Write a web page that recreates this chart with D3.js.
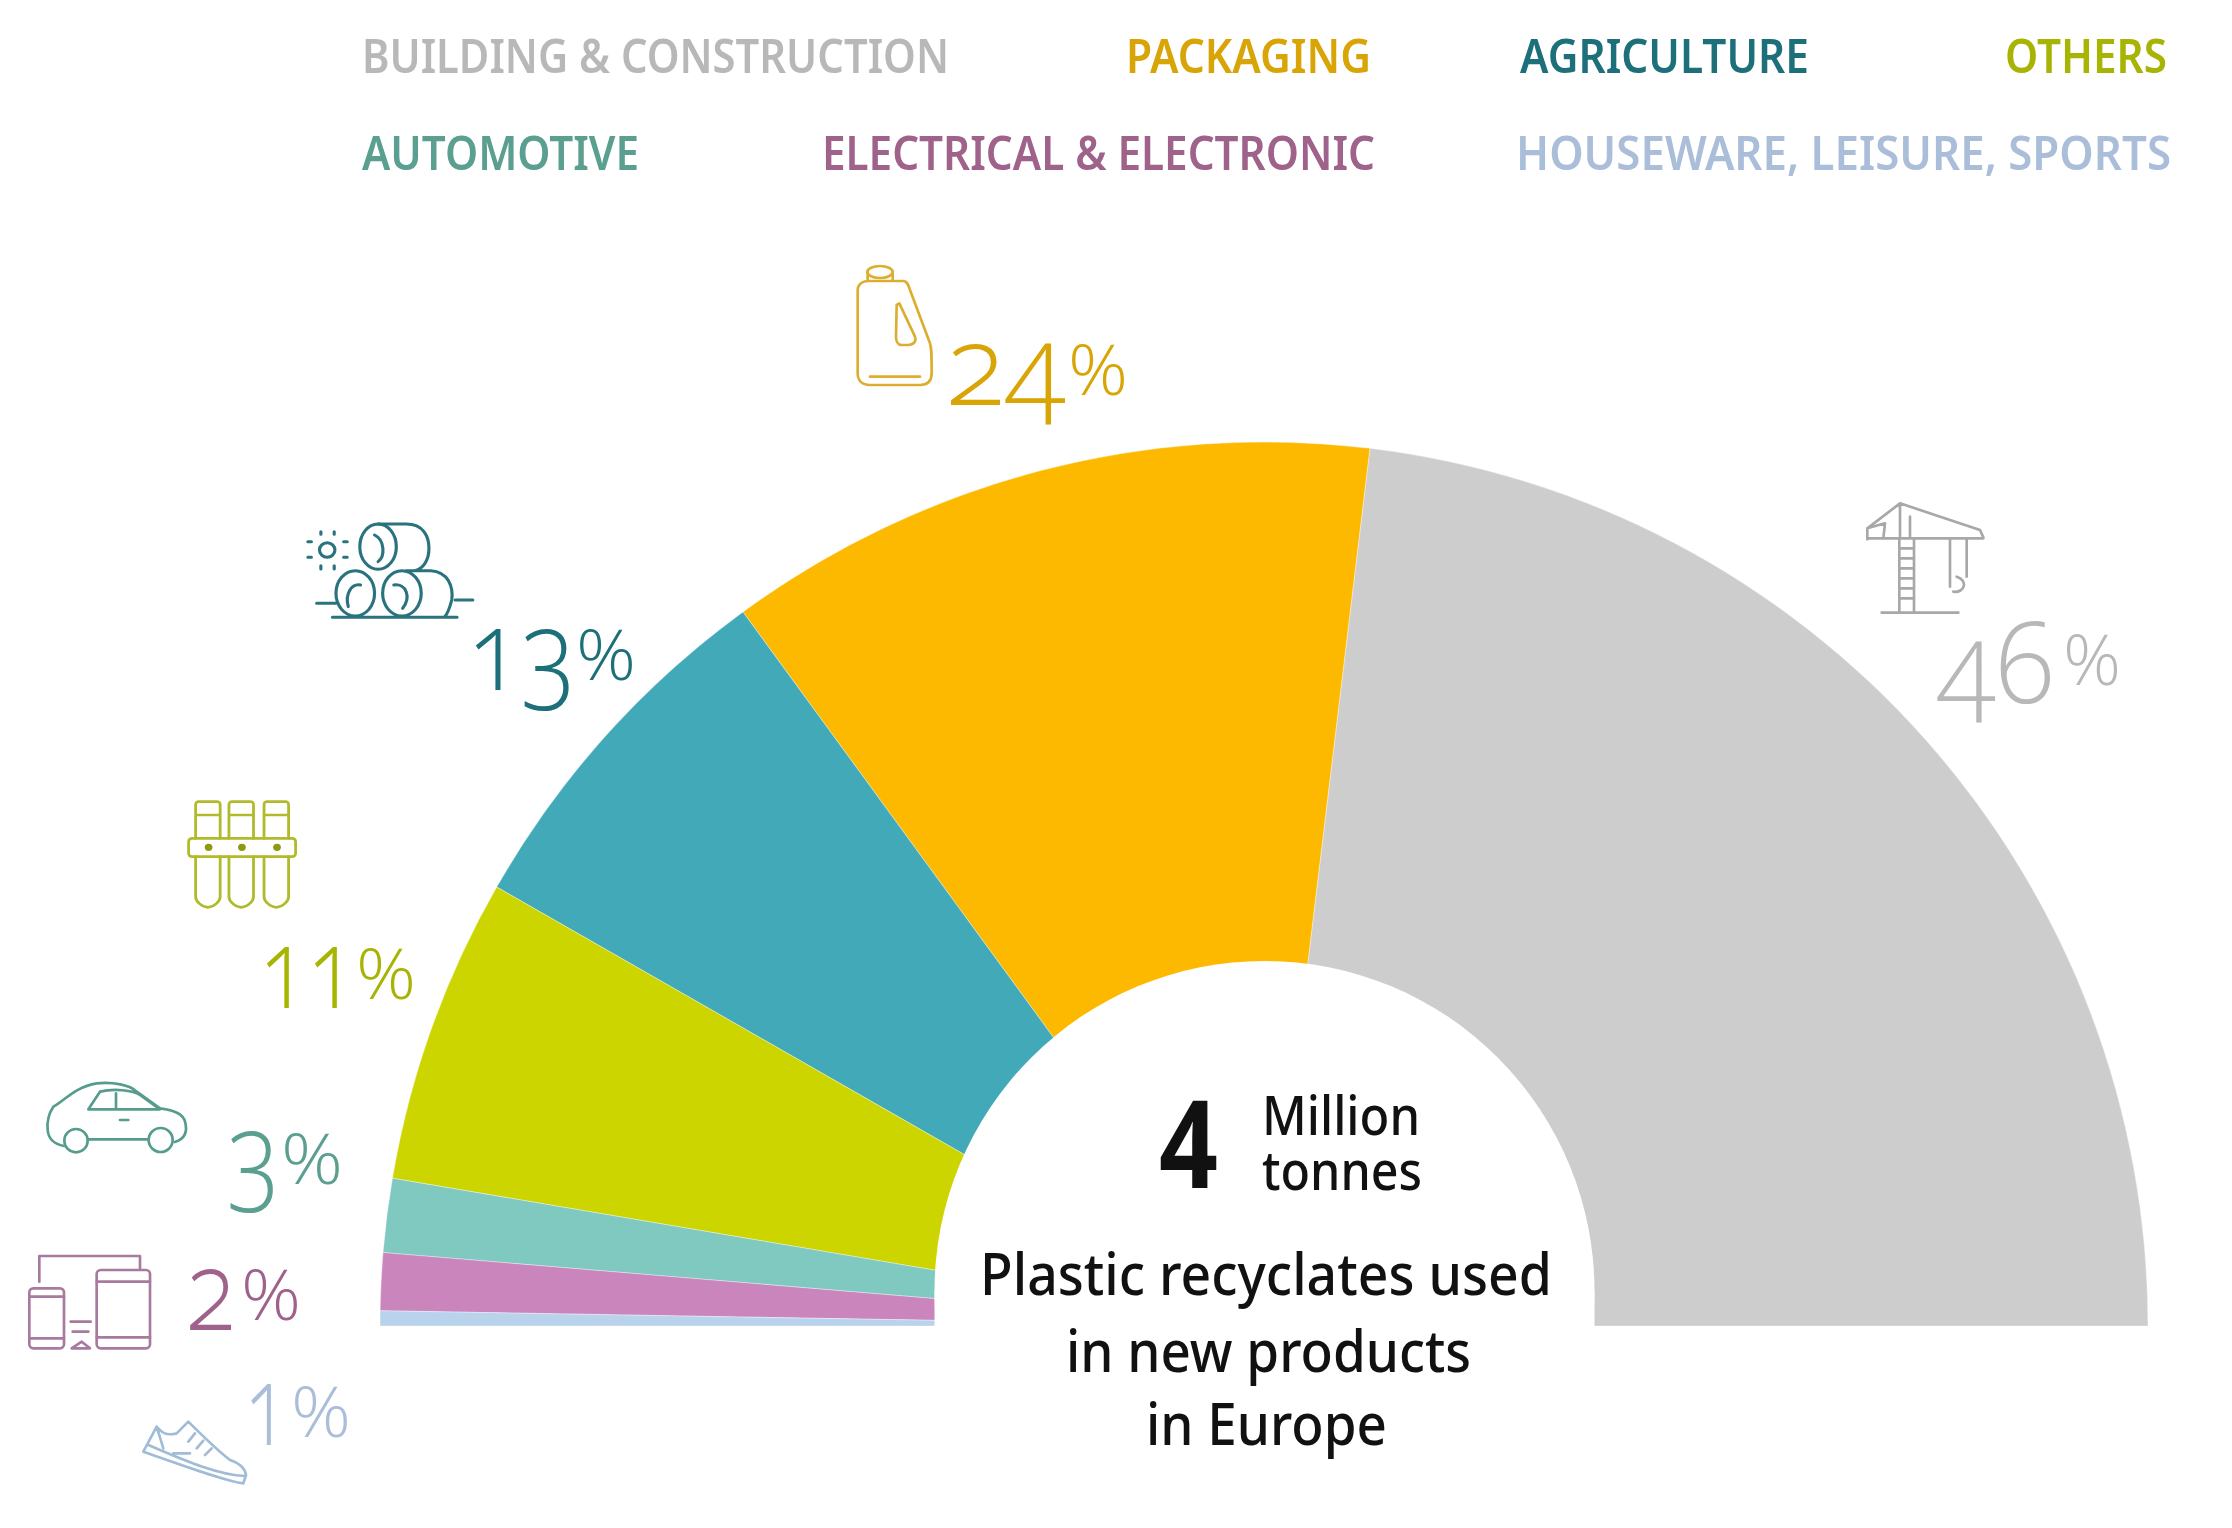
<!DOCTYPE html>
<html lang="en">
<head>
  <meta charset="UTF-8">
  <title>Plastic recyclates used in new products in Europe</title>
  <style>
    body { margin: 0; background: #fff; }
    /* the source picture is a soft upscale */
    svg { display: block; filter: blur(0.7px); }
    text { font-family: "Open Sans", "Noto Sans", sans-serif; }
    .legend { font-family: "Noto Sans", sans-serif; font-weight: 600; font-size: 46px; }
    .pct { font-family: "Open Sans", sans-serif; font-weight: 340; font-feature-settings: "onum" 1; font-variant-numeric: oldstyle-nums; }
    .center { font-family: "Noto Sans", sans-serif; fill: #111; font-weight: 500; }
    .icon { fill: none; stroke-linecap: round; stroke-linejoin: round; }
  </style>
</head>
<body>
  <svg id="chart" width="2232" height="1528"></svg>
  <script src="https://d3js.org/d3.v7.min.js"></script>
  <script>
    // Categories in the order the slices run, right to left
    const categories = ["Building & Construction", "Packaging", "Agriculture", "Others", "Automotive", "Electrical & Electronic", "Houseware, Leisure, Sports"];
    // Printed percentages
    const percentages = [46, 24, 13, 11, 3, 2, 1];
    // Slice shares as measured on the picture (the drawn angles differ a little from the printed numbers)
    const sliceShares = [46.2, 23.9, 13.4, 11.2, 2.7, 2.1, 0.55];
    const sliceColors = ["#cdcdcd", "#fdb900", "#41a9b8", "#cdd500", "#7fc9c0", "#c985bc", "#b9d3ec"];
    const textColors = ["#b8b8b8", "#d9a405", "#1d7079", "#a8b404", "#5a9f90", "#9f628a", "#aabdd9"];
    const iconColors = ["#a8a8a8", "#dcae30", "#2a737e", "#b0ba2a", "#559c8e", "#a87a9e", "#a0bcd6"];

    const svg = d3.select("#chart");

    // Half donut, hole is a bit higher than the pie centre
    const cx = 1264, cy = 1326, outerR = 884;
    const pie = d3.pie().sort(null).startAngle(Math.PI / 2).endAngle(-Math.PI / 2);
    const arc = d3.arc().innerRadius(0).outerRadius(outerR);

    svg.append("g")
      .attr("transform", `translate(${cx},${cy})`)
      .selectAll("path")
      .data(pie(sliceShares))
      .join("path")
      .attr("d", arc)
      .attr("fill", (d, i) => sliceColors[i])
      .attr("stroke", "#fff")
      .attr("stroke-opacity", 0.35)
      .attr("stroke-width", 1);

    svg.append("circle").attr("cx", 1264.5).attr("cy", 1291).attr("r", 330).attr("fill", "#fff");
    svg.append("rect").attr("x", 934.5).attr("y", 1291).attr("width", 660).attr("height", 40).attr("fill", "#fff");

    // Legend, [left, right, baseline] per category
    const legendPos = [[362, 949, 73], [1126, 1371, 73], [1520, 1809, 73], [2005, 2167, 73], [362, 639, 170], [822, 1375, 170], [1516, 2171, 170]];
    svg.append("g").selectAll("text")
      .data(categories)
      .join("text")
      .attr("class", "legend")
      .attr("x", (d, i) => legendPos[i][0])
      .attr("y", (d, i) => legendPos[i][2])
      .attr("textLength", (d, i) => legendPos[i][1] - legendPos[i][0])
      .attr("lengthAdjust", "spacingAndGlyphs")
      .attr("fill", (d, i) => textColors[i])
      .text(d => d.toUpperCase());

    // Percent labels: digits left, digits width, baseline, % left, % width, % baseline
    const pctPos = [
      [1938, 116, 703, 2063, 58, 685],
      [946, 120, 405, 1068, 60, 395],
      [468, 108, 690, 576, 60, 680],
      [260, 96, 1008, 356, 60, 999],
      [228, 52, 1192, 281, 62, 1184],
      [186, 50, 1330, 241, 60, 1320],
      [245, 43, 1445, 291, 60, 1437]
    ];
    const pctText = svg.append("g").selectAll("text")
      .data(percentages)
      .join("text")
      .attr("class", "pct")
      .attr("fill", (d, i) => textColors[i]);
    pctText.append("tspan")
      .attr("x", (d, i) => pctPos[i][0])
      .attr("y", (d, i) => pctPos[i][2])
      .attr("font-size", 112)
      .attr("textLength", (d, i) => pctPos[i][1])
      .attr("lengthAdjust", "spacingAndGlyphs")
      .text(d => d);
    pctText.append("tspan")
      .attr("x", (d, i) => pctPos[i][3])
      .attr("y", (d, i) => pctPos[i][5])
      .attr("font-size", 70)
      .attr("textLength", (d, i) => pctPos[i][4])
      .attr("lengthAdjust", "spacingAndGlyphs")
      .text("%");

    // Centre text, one element with a tspan per line
    const centerLines = [
      { t: "4", x: 1159, w: 59, y: 1188, s: 122, b: 700 },
      { t: "Million", x: 1262, w: 158, y: 1135, s: 55, b: 500 },
      { t: "tonnes", x: 1262, w: 160, y: 1190, s: 55, b: 500 },
      { t: "Plastic recyclates used", x: 980, w: 572, y: 1295, s: 58, b: 500 },
      { t: "in new products", x: 1066, w: 405, y: 1372, s: 58, b: 500 },
      { t: "in Europe", x: 1146, w: 241, y: 1445, s: 58, b: 500 }
    ];
    svg.append("text")
      .attr("class", "center")
      .selectAll("tspan")
      .data(centerLines)
      .join("tspan")
      .attr("x", d => d.x)
      .attr("y", d => d.y)
      .attr("font-size", d => d.s)
      .attr("font-weight", d => d.b)
      .attr("textLength", d => d.w)
      .attr("lengthAdjust", "spacingAndGlyphs")
      .text(d => d.t);

    // Icons, traced in the coordinates of the zoomed crops
    function icon(i, tx, ty, sx, sy, sw) {
      return svg.append("g")
        .attr("class", "icon")
        .attr("transform", `translate(${tx},${ty}) scale(${sx},${sy})`)
        .attr("stroke", iconColors[i])
        .attr("stroke-width", sw);
    }

    // crane
    const crane = icon(0, 1840, 480, 1 / 3, 1 / 3, 8);
    crane.append("path").attr("d", "M125,398H355M178,395V175M222,395V175M178,205H222M178,235H222M178,265H222M178,295H222M178,325H222M178,355H222M82,175H430M82,178V145L180,70L420,150L430,172M180,70V172M210,110V172M82,145L135,130L130,175M330,180V320M380,180V290M350,290C385,300 375,340 340,335");

    // bottle
    const bottle = icon(1, 820, 240, 1 / 3, 1 / 3, 8);
    bottle.append("ellipse").attr("cx", 180).attr("cy", 96).attr("rx", 38).attr("ry", 18);
    bottle.append("path").attr("d", "M143,98V122M218,98V122M145,123H250C262,123 265,135 270,150L330,310C335,325 335,340 335,400C335,425 320,435 300,435H150C125,435 113,420 113,400V150C113,135 125,123 145,123ZM238,190L285,290C290,305 280,315 265,315H245C232,315 228,300 228,290L230,195ZM150,410H300");

    // hay bales with the sun
    const hay = icon(2, 150, 500, 1 / 2.85, 1 / 3, 9);
    hay.append("ellipse").attr("cx", 650).attr("cy", 140).attr("rx", 52).attr("ry", 68);
    hay.append("ellipse").attr("cx", 585).attr("cy", 280).attr("rx", 55).attr("ry", 68);
    hay.append("ellipse").attr("cx", 718).attr("cy", 280).attr("rx", 55).attr("ry", 68);
    hay.append("circle").attr("cx", 505).attr("cy", 150).attr("r", 22);
    hay.append("path").attr("d", "M650,72H730C780,72 795,110 795,145C795,180 780,205 755,212M640,105C670,120 670,170 650,185M565,320C555,280 575,250 600,255M730,212H800C850,215 865,260 860,300C855,320 850,340 840,350M695,255C730,250 745,290 720,325M520,352H875M475,310H530M870,300H920M487,95V103M525,95V103M450,125H460M552,125H562M450,172H460M552,172H562M487,197V207M525,197V207");

    // test tubes
    const tubes = icon(3, 150, 500, 1 / 2.85, 1 / 3, 8);
    [130, 225, 325].forEach(x => {
      tubes.append("path").attr("d", `M${x},1015V945H${x + 70}V1015M${x},945V915C${x},905 ${x + 5},905 ${x + 10},905H${x + 60}C${x + 65},905 ${x + 70},905 ${x + 70},915V945M${x},1070V1190C${x},1205 ${x + 20},1222 ${x + 35},1222C${x + 50},1222 ${x + 70},1205 ${x + 70},1190V1070`);
      tubes.append("circle").attr("cx", x + 37).attr("cy", 1042).attr("r", 11).attr("fill", "#8f9a10").attr("stroke", "none");
    });
    tubes.append("rect").attr("x", 110).attr("y", 1015).attr("width", 305).attr("height", 55).attr("rx", 10);

    // car
    const car = icon(4, 0, 1050, 1 / 3, 1 / 3, 8);
    car.append("circle").attr("cx", 228).attr("cy", 272).attr("r", 35);
    car.append("circle").attr("cx", 482).attr("cy", 270).attr("r", 36);
    car.append("path").attr("d", "M192,288C160,282 145,265 143,240C140,210 150,185 160,170C190,155 225,110 290,100C340,95 390,105 410,125L480,175C520,180 550,190 555,215C562,240 560,265 525,276M265,268H445M265,178H480L420,135C400,120 340,115 300,125ZM348,130V175M360,210H385");

    // devices
    const dev = icon(5, 0, 1050, 1 / 3, 1 / 3, 8);
    dev.append("rect").attr("x", 290).attr("y", 660).attr("width", 160).attr("height", 235).attr("rx", 12);
    dev.append("rect").attr("x", 88).attr("y", 715).attr("width", 104).attr("height", 180).attr("rx", 12);
    dev.append("path").attr("d", "M118,695V618H420V655M290,695H450M290,862H450M88,740H192M88,865H192M212,815H272M218,845H265M215,895H270L245,875Z");

    // sneaker
    const shoe = icon(6, 0, 1050, 1 / 3, 1 / 3, 8);
    shoe.append("path").attr("d", "M430,1205L470,1130C480,1140 490,1160 530,1150L565,1115C600,1150 650,1200 690,1230C720,1240 735,1255 738,1275L730,1300C680,1295 560,1250 430,1205ZM445,1185C540,1225 650,1275 735,1278M470,1130L490,1195M585,1150L565,1175M610,1172L590,1195M635,1195L615,1215M520,1210H570");
  </script>
</body>
</html>
